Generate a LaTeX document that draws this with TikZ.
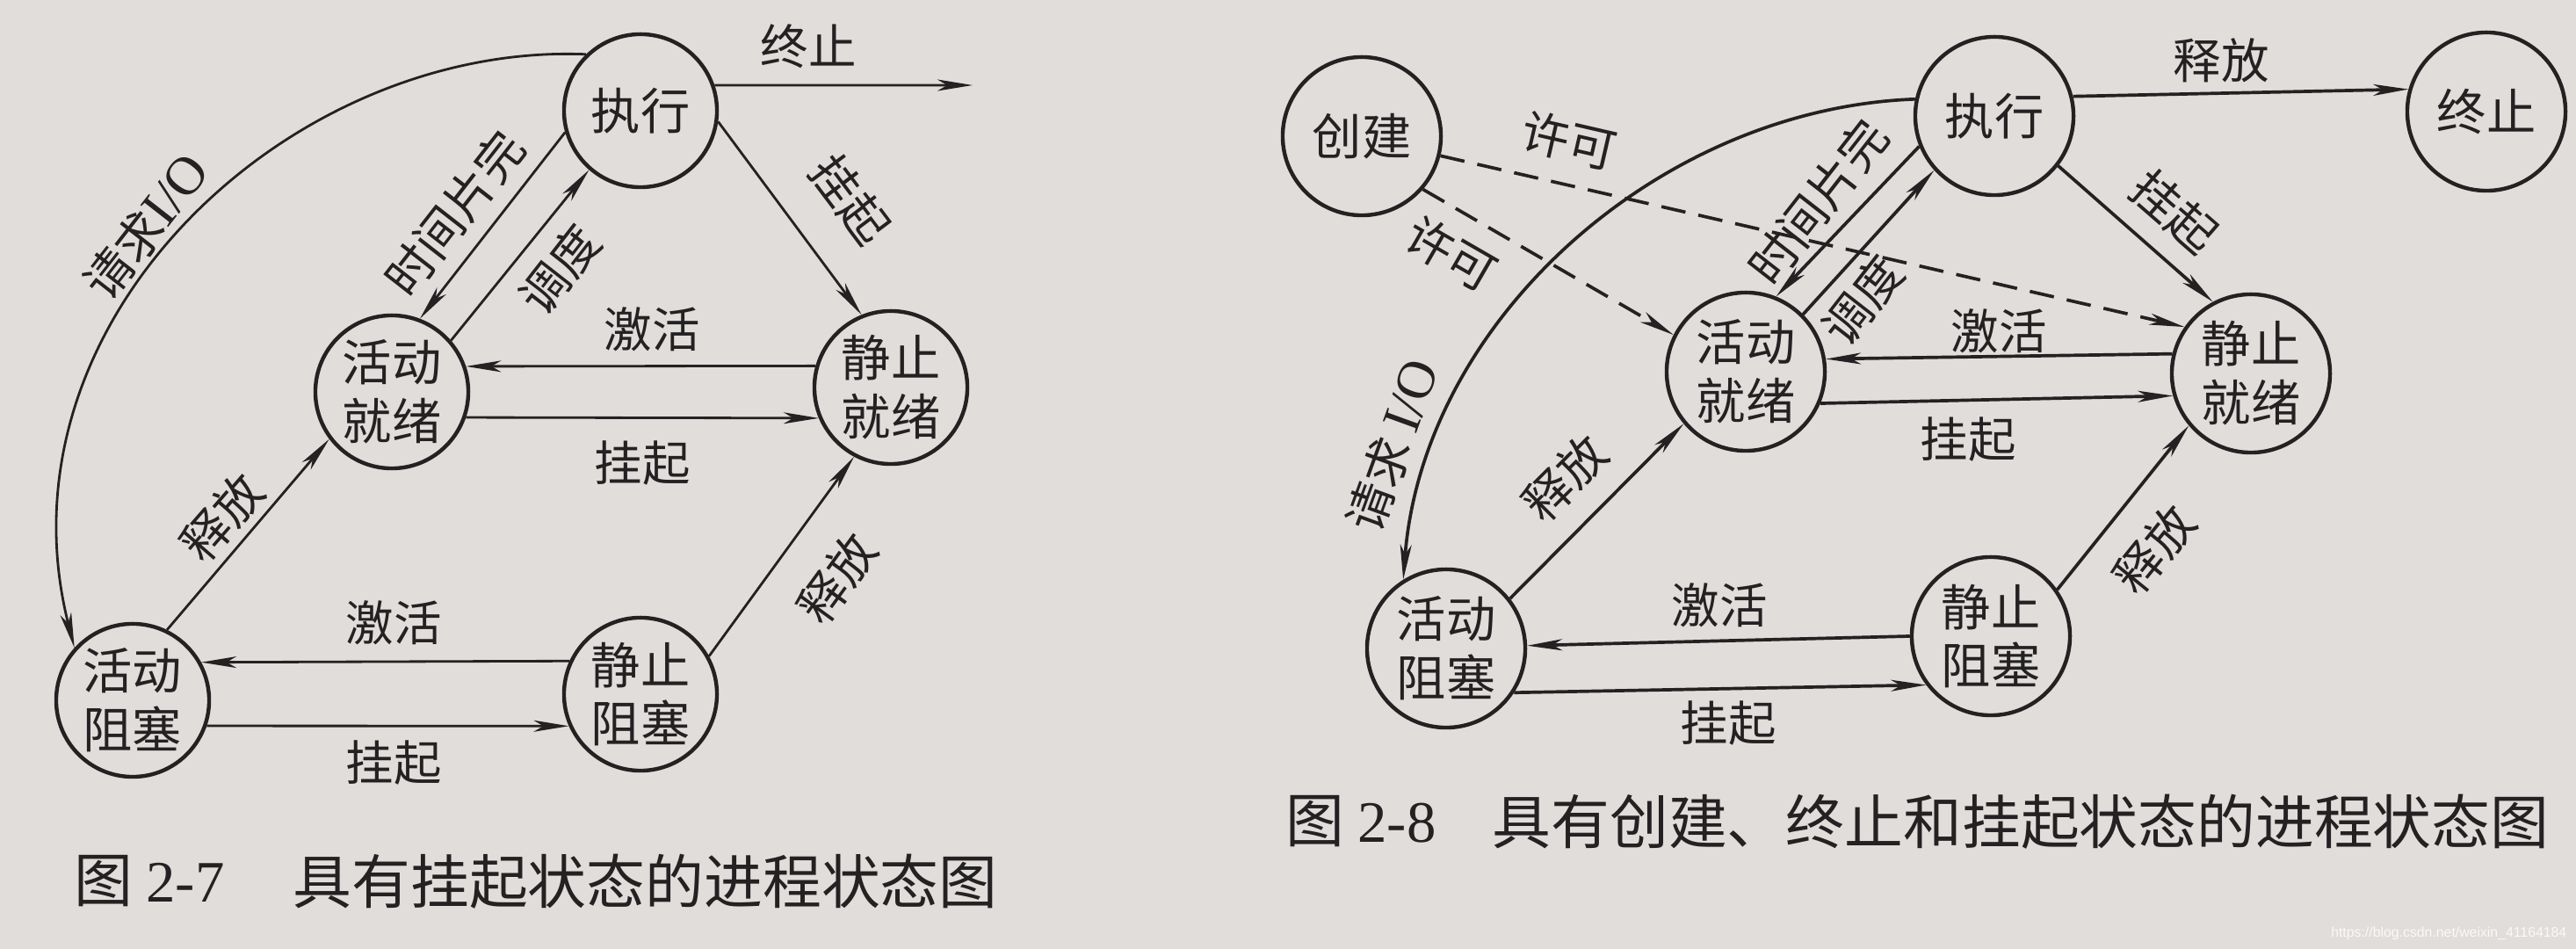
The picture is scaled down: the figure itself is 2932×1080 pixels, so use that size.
\documentclass[tikz,border=0pt]{standalone}
\usepackage{fontspec}
\setmainfont{Liberation Serif}
\newfontfamily\cjk{Noto Sans CJK SC}
\newfontfamily\wmfont{Liberation Sans}
\usetikzlibrary{arrows.meta}
\definecolor{paper}{RGB}{224,221,219}
\definecolor{ink}{RGB}{35,33,33}
\newcommand{\latin}[1]{{\rmfamily\fontsize{17.5}{18}\selectfont #1}}
\tikzset{
  state/.style={circle,draw=ink,line width=1.25pt,inner sep=0pt,align=center,text=ink,
    font=\cjk\fontsize{16}{19}\selectfont},
  stL/.style={state,minimum size=1.74cm},
  stR/.style={state,minimum size=1.80cm},
  lab/.style={inner sep=0pt,text=ink,font=\cjk\fontsize{15.5}{18}\selectfont},
  captext/.style={inner sep=0pt,anchor=west,text=ink,font=\cjk\fontsize{19}{22}\selectfont},
  arr/.style={draw=ink,-{Stealth[length=4mm,width=1.3mm,inset=1.1mm]}},
  arrL/.style={arr,line width=0.8pt},
  arrR/.style={arr,line width=1.05pt},
  dsh/.style={arrR,dash pattern=on 2.8mm off 1.5mm}
}
\begin{document}
\begin{tikzpicture}[x=0.01cm,y=-0.01cm]
\fill[paper] (0,0) rectangle (2932,1080);
\useasboundingbox (0,0) rectangle (2932,1080);

% ---------- Figure 2-7 ----------
\node[stL] (E1)  at (729,126)  {执行};
\node[stL] (AR1) at (446,446)  {活动\\就绪};
\node[stL] (SR1) at (1014,441) {静止\\就绪};
\node[stL] (AB1) at (151,797)  {活动\\阻塞};
\node[stL] (SB1) at (729,790)  {静止\\阻塞};
\coordinate (TZ1) at (1107,97);

\draw[arrL] (E1.19) -- (TZ1);
\draw[arrL] (E1.196) -- (AR1.69);
\draw[arrL] (AR1.41) -- (E1.229);
\draw[arrL] (E1.-8) -- (SR1.112);
\draw[arrL] (SR1.164) -- (AR1.19.5);
\draw[arrL] (AR1.-19.5) -- (SR1.203);
\draw[arrL] (AB1.64) -- (AR1.217);
\draw[arrL] (SB1.155.6) -- (AB1.29.6);
\draw[arrL] (AB1.-19.5) -- (SB1.204.4);
\draw[arrL] (SB1.29) -- (SR1.242.5);
\draw[arrL] (E1.134) .. controls (330,48) and (-10,365) .. (AB1.138);

\node[lab] (l1a) at (920,53) {终止};
\node[lab,rotate=52] (l1b) at (517,243) {时间片完};
\node[lab,rotate=52] (l1c) at (637,307) {调度};
\node[lab,rotate=-53] (l1d) at (968,227) {挂起};
\node[lab] (l1e) at (742,375) {激活};
\node[lab] (l1f) at (731,527) {挂起};
\node[lab,rotate=49] (l1g) at (253,589) {释放};
\node[lab] (l1h) at (448,709) {激活};
\node[lab] (l1i) at (448,868) {挂起};
\node[lab,rotate=54] (l1j) at (953,658) {释放};
\node[lab,rotate=52] (l1k) at (166,258) {请求\latin{I/O}};

\node[captext] (c1a) at (84,1003) {图 {\rmfamily 2-7}};
\node[captext] (c1b) at (333,1003) {具有挂起状态的进程状态图};

% ---------- Figure 2-8 ----------
\node[stR] (CR)  at (1550,155) {创建};
\node[stR] (E2)  at (2270,132) {执行};
\node[stR] (TM)  at (2830,127) {终止};
\node[stR] (AR2) at (1987,423) {活动\\就绪};
\node[stR] (SR2) at (2562,425) {静止\\就绪};
\node[stR] (AB2) at (1646,738) {活动\\阻塞};
\node[stR] (SB2) at (2266,724) {静止\\阻塞};

\draw[arrR] (E2.14) -- (TM.164.5);
\draw[arrR] (E2.202) -- (AR2.68);
\draw[arrR] (AR2.45) -- (E2.222);
\draw[arrR] (E2.-38) -- (SR2.118.6);
\draw[arrR] (SR2.166) -- (AR2.9.6);
\draw[arrR] (AR2.-23) -- (SR2.196.8);
\draw[arrR] (AB2.38) -- (AR2.220.6);
\draw[arrR] (SB2.180.6) -- (AB2.2);
\draw[arrR] (AB2.-33) -- (SB2.217);
\draw[arrR] (SB2.35) -- (SR2.220);
\draw[dsh] (CR.-41) -- (AR2.153.7);
\draw[dsh] (CR.-14) -- (SR2.145);
\draw[arrR] (E2.168) .. controls (1888,123.5) and (1620,365) .. (AB2.122);

\node[lab] (l2a) at (2528,69) {释放};
\node[lab,rotate=52] (l2b) at (2069,230) {时间片完};
\node[lab,rotate=52] (l2c) at (2120,342) {调度};
\node[lab,rotate=-41] (l2d) at (2475,241) {挂起};
\node[lab] (l2e) at (2275,377) {激活};
\node[lab] (l2f) at (2240,500) {挂起};
\node[lab,rotate=45] (l2g) at (1781,544) {释放};
\node[lab] (l2h) at (1957,689) {激活};
\node[lab] (l2i) at (1967,823) {挂起};
\node[lab,rotate=51] (l2j) at (2452,625) {释放};
\node[lab,rotate=-30] (l2k) at (1652,289) {许可};
\node[lab,rotate=-13] (l2l) at (1786,160) {许可};
\node[lab,rotate=70] (l2m) at (1585,507) {请求 \latin{I/O}};

\node[captext] (c2a) at (1463,935) {图 {\rmfamily 2-8}};
\node[captext] (c2b) at (1698,935) {具有创建、终止和挂起状态的进程状态图};

\node[inner sep=0pt,anchor=east,text=white!85!paper,font=\wmfont\fontsize{4.5}{5}\selectfont] (wm) at (2922,1062) {https://blog.csdn.net/weixin\_41164184};
\end{tikzpicture}
\end{document}
